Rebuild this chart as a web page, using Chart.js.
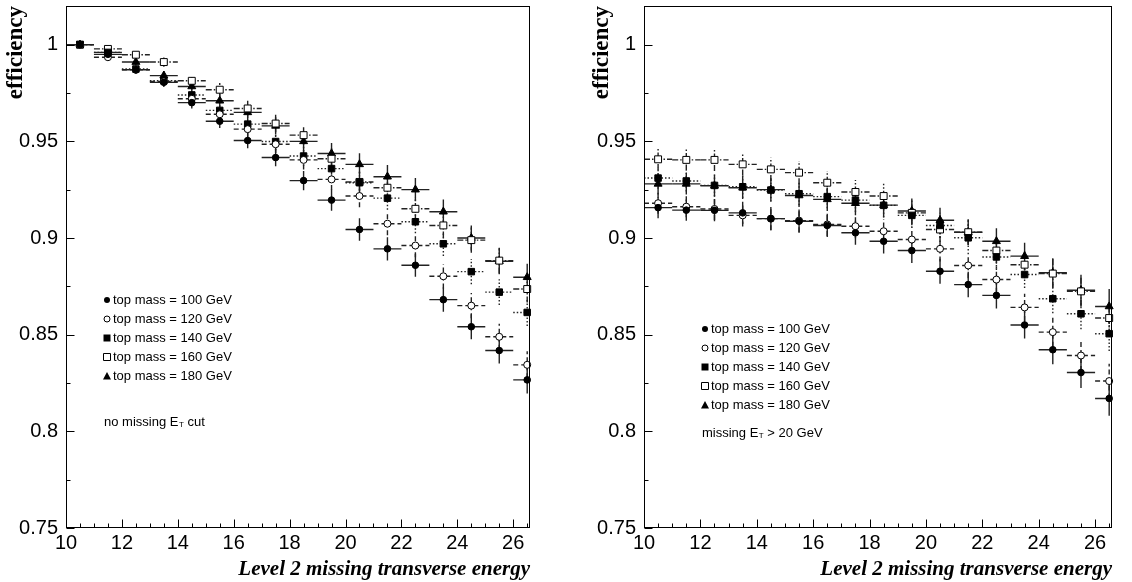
<!DOCTYPE html>
<html>
<head>
<meta charset="utf-8">
<script src="https://cdn.jsdelivr.net/npm/chart.js@4"></script>
<style>
  html, body { margin: 0; padding: 0; background: #fff; }
  #wrap { position: relative; width: 1132px; height: 582px; }
  .panel { position: absolute; top: 0; width: 566px; height: 582px; }
</style>
</head>
<body>
<div id="wrap">
  <div class="panel" style="left:0"><canvas id="noCut" width="566" height="582"></canvas></div>
  <div class="panel" style="left:566px"><canvas id="cut20" width="566" height="582"></canvas></div>
</div>
<script>
// bin centres of the level 2 missing ET histogram
const binCenters = [10.5, 11.5, 12.5, 13.5, 14.5, 15.5, 16.5, 17.5, 18.5, 19.5, 20.5, 21.5, 22.5, 23.5, 24.5, 25.5, 26.5];
const massLabels = ['top mass = 100 GeV', 'top mass = 120 GeV', 'top mass = 140 GeV', 'top mass = 160 GeV', 'top mass = 180 GeV'];
const xTicks = [10, 12, 14, 16, 18, 20, 22, 24, 26];
const yTicks = [0.75, 0.8, 0.85, 0.9, 0.95, 1];

// left: no missing ET cut
const noCut100 = [1.0, 0.995, 0.987, 0.9805, 0.970, 0.9604, 0.9504, 0.9416, 0.9297, 0.9196, 0.9044, 0.8944, 0.8859, 0.8681, 0.8541, 0.8418, 0.8266];
const noCut120 = [1.0, 0.9935, 0.987, 0.981, 0.972, 0.964, 0.9563, 0.9485, 0.9404, 0.9303, 0.9217, 0.9074, 0.8961, 0.8802, 0.865, 0.8489, 0.8344];
const noCut140 = [1.0, 0.996, 0.9874, 0.9813, 0.974, 0.966, 0.9589, 0.9499, 0.9424, 0.9359, 0.9286, 0.9206, 0.9084, 0.897, 0.8826, 0.872, 0.8615];
const noCut160 = [1.0, 0.9978, 0.9948, 0.991, 0.9813, 0.9767, 0.967, 0.9592, 0.9532, 0.941, 0.929, 0.926, 0.9151, 0.9065, 0.8989, 0.8883, 0.8736];
const noCut180 = [1.0, 0.996, 0.991, 0.984, 0.9784, 0.971, 0.965, 0.958, 0.950, 0.9437, 0.9381, 0.9317, 0.925, 0.9136, 0.900, 0.888, 0.8797];
const noCutErr = [0.0005, 0.0012, 0.0018, 0.0024, 0.003, 0.0035, 0.004, 0.0045, 0.005, 0.0055, 0.0058, 0.006, 0.006, 0.0063, 0.0065, 0.0067, 0.007];

// right: missing ET > 20 GeV
const cut20_100 = [0.9157, 0.9144, 0.9143, 0.913, 0.910, 0.9087, 0.9065, 0.9027, 0.8983, 0.8935, 0.8828, 0.8759, 0.8703, 0.855, 0.8422, 0.8304, 0.817];
const cut20_120 = [0.918, 0.9162, 0.915, 0.9117, 0.910, 0.909, 0.907, 0.9061, 0.9035, 0.8992, 0.8944, 0.8858, 0.8785, 0.8641, 0.8513, 0.8392, 0.826];
const cut20_140 = [0.931, 0.9295, 0.9272, 0.9265, 0.9248, 0.9229, 0.9214, 0.9196, 0.9169, 0.9117, 0.9065, 0.9001, 0.8902, 0.8811, 0.8686, 0.8608, 0.8505];
const cut20_160 = [0.9407, 0.9404, 0.9404, 0.9381, 0.9355, 0.9338, 0.9286, 0.9238, 0.9217, 0.913, 0.9044, 0.903, 0.8935, 0.8862, 0.8816, 0.8724, 0.8586];
const cut20_180 = [0.928, 0.928, 0.927, 0.926, 0.925, 0.922, 0.920, 0.918, 0.917, 0.914, 0.9092, 0.903, 0.8983, 0.8906, 0.882, 0.873, 0.8646];
const cut20Err = [0.0055, 0.0055, 0.0057, 0.0058, 0.006, 0.006, 0.006, 0.0062, 0.0063, 0.0064, 0.0065, 0.0066, 0.0068, 0.007, 0.0075, 0.008, 0.009];

const binHalf = 0.5;

// marker + error bar style per top mass
const markerStyles = [
  { pointStyle: 'circle', radius: 3.3, fill: '#000', dash: [] },
  { pointStyle: 'circle', radius: 3.5, fill: '#fff', dash: [5, 3] },
  { pointStyle: 'rect', radius: 4.6, fill: '#000', dash: [1.5, 2] },
  { pointStyle: 'rect', radius: 4.9, fill: '#fff', dash: [6, 2, 1.5, 2] },
  { pointStyle: 'triangle', radius: 4.6, fill: '#000', dash: [] }
];

const errorBars = {
  id: 'errorBars',
  beforeDatasetsDraw(chart) {
    const { ctx, chartArea: a, scales: { x, y } } = chart;
    ctx.save();
    ctx.beginPath();
    ctx.rect(a.left, a.top, a.right - a.left, a.bottom - a.top);
    ctx.clip();
    ctx.strokeStyle = '#222';
    ctx.lineWidth = 1.4;
    chart.data.datasets.forEach(ds => {
      ctx.setLineDash(ds.errDash);
      ds.data.forEach((p, i) => {
        const px = x.getPixelForValue(p.x);
        const py = y.getPixelForValue(p.y);
        ctx.beginPath();
        ctx.moveTo(x.getPixelForValue(p.x - binHalf), py);
        ctx.lineTo(x.getPixelForValue(p.x + binHalf), py);
        ctx.moveTo(px, y.getPixelForValue(p.y - ds.err[i]));
        ctx.lineTo(px, y.getPixelForValue(p.y + ds.err[i]));
        ctx.stroke();
      });
    });
    ctx.restore();
  }
};

const frameAndTicks = {
  id: 'frameAndTicks',
  afterDraw(chart) {
    const { ctx, chartArea: a, scales: { x, y } } = chart;
    ctx.save();
    ctx.strokeStyle = '#000';
    ctx.lineWidth = 1;
    const l = Math.round(a.left) + 0.5, r = Math.round(a.right) - 0.5;
    const t = Math.round(a.top) + 0.5, b = Math.round(a.bottom) - 0.5;
    ctx.strokeRect(l, t, r - l, b - t);
    ctx.beginPath();
    for (let v = x.min; v <= x.max + 1e-9; v += 0.5) {
      const px = Math.round(x.getPixelForValue(v)) + 0.5;
      const len = xTicks.includes(Math.round(v * 10) / 10) ? 8 : 4;
      ctx.moveTo(px, b);
      ctx.lineTo(px, b - len);
    }
    for (let v = y.min; v <= y.max + 1e-9; v += 0.025) {
      const py = Math.round(y.getPixelForValue(v)) + 0.5;
      const len = yTicks.some(t => Math.abs(t - v) < 1e-6) ? 8 : 4;
      ctx.moveTo(l, py);
      ctx.lineTo(l + len, py);
    }
    ctx.stroke();
    ctx.restore();
  }
};

const legendFont = '13px "Liberation Sans"';

const innerLegend = {
  id: 'innerLegend',
  afterDraw(chart, args, opts) {
    const { ctx, chartArea: a } = chart;
    ctx.save();
    ctx.fillStyle = '#000';
    ctx.strokeStyle = '#000';
    ctx.lineWidth = 1;
    ctx.font = legendFont;
    ctx.textBaseline = 'middle';
    const mx = a.left + opts.dx, tx = mx + 6;
    massLabels.forEach((label, i) => {
      const yy = a.top + opts.dy + i * 19;
      const s = markerStyles[i];
      ctx.beginPath();
      if (s.pointStyle === 'circle') {
        ctx.arc(mx, yy, 3, 0, Math.PI * 2);
      } else if (s.pointStyle === 'rect') {
        ctx.rect(mx - 3.5, yy - 3.5, 7, 7);
      } else {
        ctx.moveTo(mx, yy - 4); ctx.lineTo(mx + 4, yy + 3.5); ctx.lineTo(mx - 4, yy + 3.5); ctx.closePath();
      }
      if (s.fill === '#000') ctx.fill(); else { ctx.fillStyle = '#fff'; ctx.fill(); ctx.stroke(); ctx.fillStyle = '#000'; }
      ctx.fillText(label, tx, yy);
    });
    // note with E_T subscript
    const ny = a.top + opts.dy + 4 * 19 + opts.noteGap;
    let nx = mx - 3;
    ctx.fillText(opts.notePre, nx, ny);
    nx += ctx.measureText(opts.notePre).width;
    ctx.font = '8px "Liberation Sans"';
    ctx.fillText('T', nx + 0.5, ny + 3);
    nx += ctx.measureText('T').width + 0.5;
    ctx.font = legendFont;
    ctx.fillText(opts.notePost, nx, ny);
    ctx.restore();
  }
};

function makePanel(id, seriesList, errs, padLeft, padRight, yWidth, legendOpts) {
  const datasets = seriesList.map((vals, si) => ({
    label: massLabels[si],
    data: binCenters.map((bx, i) => ({ x: bx, y: vals[i] })),
    err: errs,
    errDash: markerStyles[si].dash,
    pointStyle: markerStyles[si].pointStyle,
    pointRadius: markerStyles[si].radius,
    backgroundColor: markerStyles[si].fill,
    borderColor: '#000',
    borderWidth: 1,
    showLine: false,
    clip: false
  }));
  new Chart(document.getElementById(id), {
    type: 'scatter',
    data: { datasets },
    options: {
      responsive: false,
      animation: false,
      devicePixelRatio: 1,
      layout: { padding: { top: 6, right: padRight, left: padLeft, bottom: 0 } },
      plugins: {
        legend: { display: false },
        tooltip: { enabled: false },
        innerLegend: legendOpts
      },
      scales: {
        x: {
          type: 'linear',
          min: 10,
          max: 26.6,
          grid: { display: false, drawTicks: false },
          border: { display: false },
          afterBuildTicks: s => { s.ticks = xTicks.map(v => ({ value: v })); },
          afterFit: s => { s.height = 54; s.paddingLeft = 0; s.paddingRight = 0; },
          ticks: { color: '#000', font: { family: 'Liberation Sans', size: 20 }, padding: 3, maxRotation: 0 },
          title: {
            display: true,
            text: 'Level 2 missing transverse energy',
            align: 'end',
            color: '#000',
            font: { family: 'Liberation Serif', size: 21, weight: 'bold', style: 'italic' },
            padding: { top: 2, bottom: 0 }
          }
        },
        y: {
          type: 'linear',
          min: 0.75,
          max: 1.02,
          grid: { display: false, drawTicks: false },
          border: { display: false },
          afterBuildTicks: s => { s.ticks = yTicks.map(v => ({ value: v })); },
          afterFit: s => { s.width = yWidth; s.paddingTop = 0; s.paddingBottom = 0; },
          ticks: {
            color: '#000',
            font: { family: 'Liberation Sans', size: 20 },
            padding: 8,
            callback: v => String(Math.round(v * 100) / 100)
          },
          title: {
            display: true,
            text: 'efficiency',
            align: 'end',
            color: '#000',
            font: { family: 'Liberation Serif', size: 23, weight: 'bold' },
            padding: { top: 2, bottom: 2 }
          }
        }
      }
    },
    plugins: [errorBars, frameAndTicks, innerLegend]
  });
}

makePanel('noCut', [noCut100, noCut120, noCut140, noCut160, noCut180], noCutErr, 0, 36, 66,
  { dx: 41, dy: 294, noteGap: 46, notePre: 'no missing E', notePost: ' cut' });
makePanel('cut20', [cut20_100, cut20_120, cut20_140, cut20_160, cut20_180], cut20Err, 20, 20, 58,
  { dx: 61, dy: 323, noteGap: 28, notePre: 'missing E', notePost: ' > 20 GeV' });
</script>
</body>
</html>
